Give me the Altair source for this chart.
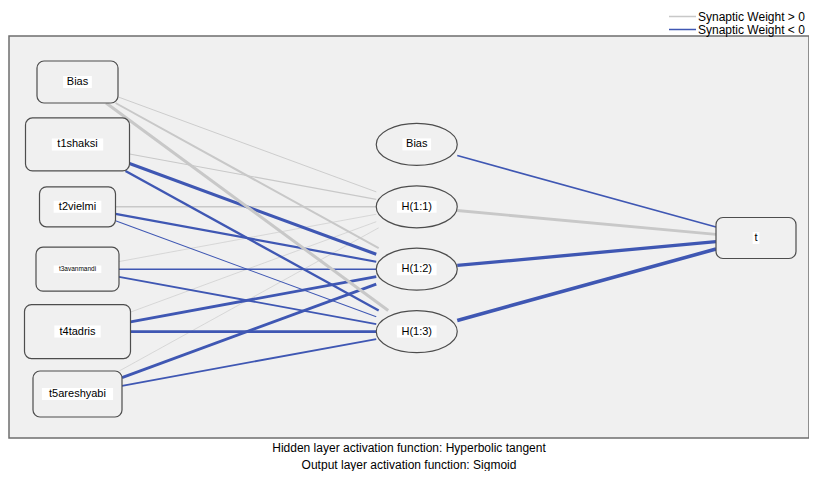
import altair as alt
import pandas as pd

# ---------------- data ----------------
input_names = ["Bias", "t1shaksi", "t2vielmi", "t3avanmandi", "t4tadris", "t5areshyabi"]
hidden_names = ["Bias", "H(1:1)", "H(1:2)", "H(1:3)"]
output_names = ["t"]

# synaptic weights (input -> hidden), one list per hidden unit, in input order
w_to_h11 = [0.25, 0.30, 0.45, 0.18, 0.18, 0.18]
w_to_h12 = [0.55, -0.85, -0.62, -0.42, -0.80, -0.80]
w_to_h13 = [0.85, -0.65, -0.28, -0.52, -0.72, -0.52]
# synaptic weights (hidden -> output), in hidden order
w_to_t = [-0.45, 0.80, -0.92, -1.00]

legend_labels = ["Synaptic Weight > 0", "Synaptic Weight < 0"]
captions = ["Hidden layer activation function: Hyperbolic tangent",
            "Output layer activation function: Sigmoid"]

# ---------------- layout ----------------
input_rows = [0, 1, 2, 3, 4, 5]
hidden_rows = [1, 2, 3, 4]
output_rows = [2.5]
input_box_w = [81, 104, 76, 83, 106, 89]
input_box_h = [42, 53, 40, 44, 54, 46]
input_font = [11, 11, 11, 6.5, 11, 11]
hidden_box = (81, 42)
output_box = (80, 41)

COL_PX, ROW_PX = 339.25, 62.4          # pixels per layer column / per row
COL0_PAGE, ROW0_PAGE = 77.5, 82.0      # page position of column 0 / row 0
VIEW_LEFT, VIEW_TOP = 9, 36            # page position of the view
W, H = 800, 402

x_dom = [(VIEW_LEFT - COL0_PAGE) / COL_PX, (VIEW_LEFT + W - COL0_PAGE) / COL_PX]
y_dom = [(VIEW_TOP - ROW0_PAGE) / ROW_PX, (VIEW_TOP + H - ROW0_PAGE) / ROW_PX]

GRAY, BLUE = "#c8c8c8", "#3f57b3"
FONT = "Liberation Sans"

AW = {'a': 556, 'b': 556, 'c': 500, 'd': 556, 'e': 556, 'f': 278, 'g': 556, 'h': 556, 'i': 222,
      'k': 500, 'l': 222, 'm': 833, 'n': 556, 'o': 556, 'p': 556, 'r': 333, 's': 500, 't': 278,
      'u': 556, 'v': 500, 'y': 500, 'H': 722, 'B': 667, '(': 333, ')': 333, ':': 278}


def text_w(s, fs):
    return sum(AW.get(c, 556) for c in s) / 1000.0 * fs


nodes = []
for i, nm in enumerate(input_names):
    nodes.append(dict(key="in" + str(i), label=nm, col=0, row=input_rows[i],
                      w=input_box_w[i], h=input_box_h[i], shape="rect", fs=input_font[i]))
for i, nm in enumerate(hidden_names):
    nodes.append(dict(key="h" + str(i), label=nm, col=1, row=hidden_rows[i],
                      w=hidden_box[0], h=hidden_box[1], shape="ellipse", fs=11))
for i, nm in enumerate(output_names):
    nodes.append(dict(key="o" + str(i), label=nm, col=2, row=output_rows[i],
                      w=output_box[0], h=output_box[1], shape="rect", fs=11))
nd = pd.DataFrame(nodes)
nd["hw"] = nd["w"] / 2 / COL_PX
nd["hh"] = nd["h"] / 2 / ROW_PX
nd["xl"] = nd["col"] - nd["hw"]
nd["xr"] = nd["col"] + nd["hw"]
nd["yt"] = nd["row"] - nd["hh"]
nd["yb"] = nd["row"] + nd["hh"]
lw = [text_w(l, f) * 1.2 + 3 for l, f in zip(nd["label"], nd["fs"])]
nd["lw"] = [v / 2 / COL_PX for v in lw]
nd["lh"] = (nd["fs"] + 1) / 2 / ROW_PX
nd["bxl"] = nd["col"] - nd["lw"]
nd["bxr"] = nd["col"] + nd["lw"]
nd["byt"] = nd["row"] - nd["lh"]
nd["byb"] = nd["row"] + nd["lh"]
node_by = {r["key"]: r for _, r in nd.iterrows()}

pairs = []
for hi, ws in zip([1, 2, 3], [w_to_h11, w_to_h12, w_to_h13]):
    for ii, wv in enumerate(ws):
        pairs.append(("in" + str(ii), "h" + str(hi), wv))
for hi, wv in enumerate(w_to_t):
    pairs.append(("h" + str(hi), "o0", wv))


def clip_t(n, dx, dy):
    tx = n["hw"] / abs(dx) if dx else 1e9
    ty = n["hh"] / abs(dy) if dy else 1e9
    return min(tx, ty)


edges = []
for s, t, wv in pairs:
    a, b = node_by[s], node_by[t]
    dx, dy = b["col"] - a["col"], b["row"] - a["row"]
    ts, tt = clip_t(a, dx, dy), clip_t(b, dx, dy)
    edges.append(dict(xs=a["col"] + ts * dx, ys=a["row"] + ts * dy,
                      xe=b["col"] - tt * dx, ye=b["row"] - tt * dy,
                      weight=wv, absw=abs(wv),
                      sign=legend_labels[0] if wv > 0 else legend_labels[1]))
ed = pd.DataFrame(edges)

xs = alt.Scale(domain=x_dom, nice=False, zero=False)
ys = alt.Scale(domain=y_dom, nice=False, zero=False, reverse=True)

lines = alt.Chart(ed).mark_rule().encode(
    x=alt.X("xs:Q", scale=xs, axis=None),
    y=alt.Y("ys:Q", scale=ys, axis=None),
    x2="xe:Q", y2="ye:Q",
    color=alt.Color("sign:N", scale=alt.Scale(domain=legend_labels, range=[GRAY, BLUE]),
                    legend=alt.Legend(title=None, orient="none", legendX=659, legendY=-25,
                                      symbolType="stroke", symbolSize=729, symbolStrokeWidth=1.5,
                                      clipHeight=11, rowPadding=0, padding=0, labelOffset=1,
                                      labelFont=FONT, labelFontSize=12, labelColor="black")),
    strokeWidth=alt.StrokeWidth("absw:Q", scale=alt.Scale(domain=[0, 1], range=[0, 3.6]), legend=None),
)

rects = alt.Chart(nd[nd["shape"] == "rect"]).mark_rect(
    cornerRadius=7, fill="#f0f0f0", stroke="#4d4d4d", strokeWidth=1.2
).encode(
    x=alt.X("xl:Q", scale=xs, axis=None), x2="xr:Q",
    y=alt.Y("yt:Q", scale=ys, axis=None), y2="yb:Q",
)

ellipse_path = "M -1 0 A 1 0.5185 0 1 1 1 0 A 1 0.5185 0 1 1 -1 0 Z"
ellipses = alt.Chart(nd[nd["shape"] == "ellipse"]).mark_point(
    shape=ellipse_path, size=hidden_box[0] ** 2, filled=True, fill="#f0f0f0",
    stroke="#4d4d4d", strokeWidth=1.2, opacity=1
).encode(
    x=alt.X("col:Q", scale=xs, axis=None),
    y=alt.Y("row:Q", scale=ys, axis=None),
)

label_bg = alt.Chart(nd).mark_rect(fill="white").encode(
    x=alt.X("bxl:Q", scale=xs, axis=None), x2="bxr:Q",
    y=alt.Y("byt:Q", scale=ys, axis=None), y2="byb:Q",
)

labels = alt.Chart(nd).mark_text(font=FONT, color="black", baseline="middle", align="center").encode(
    x=alt.X("col:Q", scale=xs, axis=None),
    y=alt.Y("row:Q", scale=ys, axis=None),
    text="label:N",
    size=alt.Size("fs:Q", scale=None),
)

chart = alt.layer(lines, rects, ellipses, label_bg, labels).properties(
    width=W, height=H, autosize="none",
    padding={"left": VIEW_LEFT - 8, "top": VIEW_TOP - 8, "right": 0, "bottom": 33},
    title=alt.TitleParams(text=captions, orient="bottom", anchor="middle", font=FONT,
                          fontSize=12, fontWeight="normal", color="black", lineHeight=17,
                          offset=5, baseline="top"),
).configure_view(fill="#f0f0f0", stroke="#6e6e6e", strokeWidth=1.5)

chart.save("out.html", embed_options={"renderer": "svg", "actions": False})
